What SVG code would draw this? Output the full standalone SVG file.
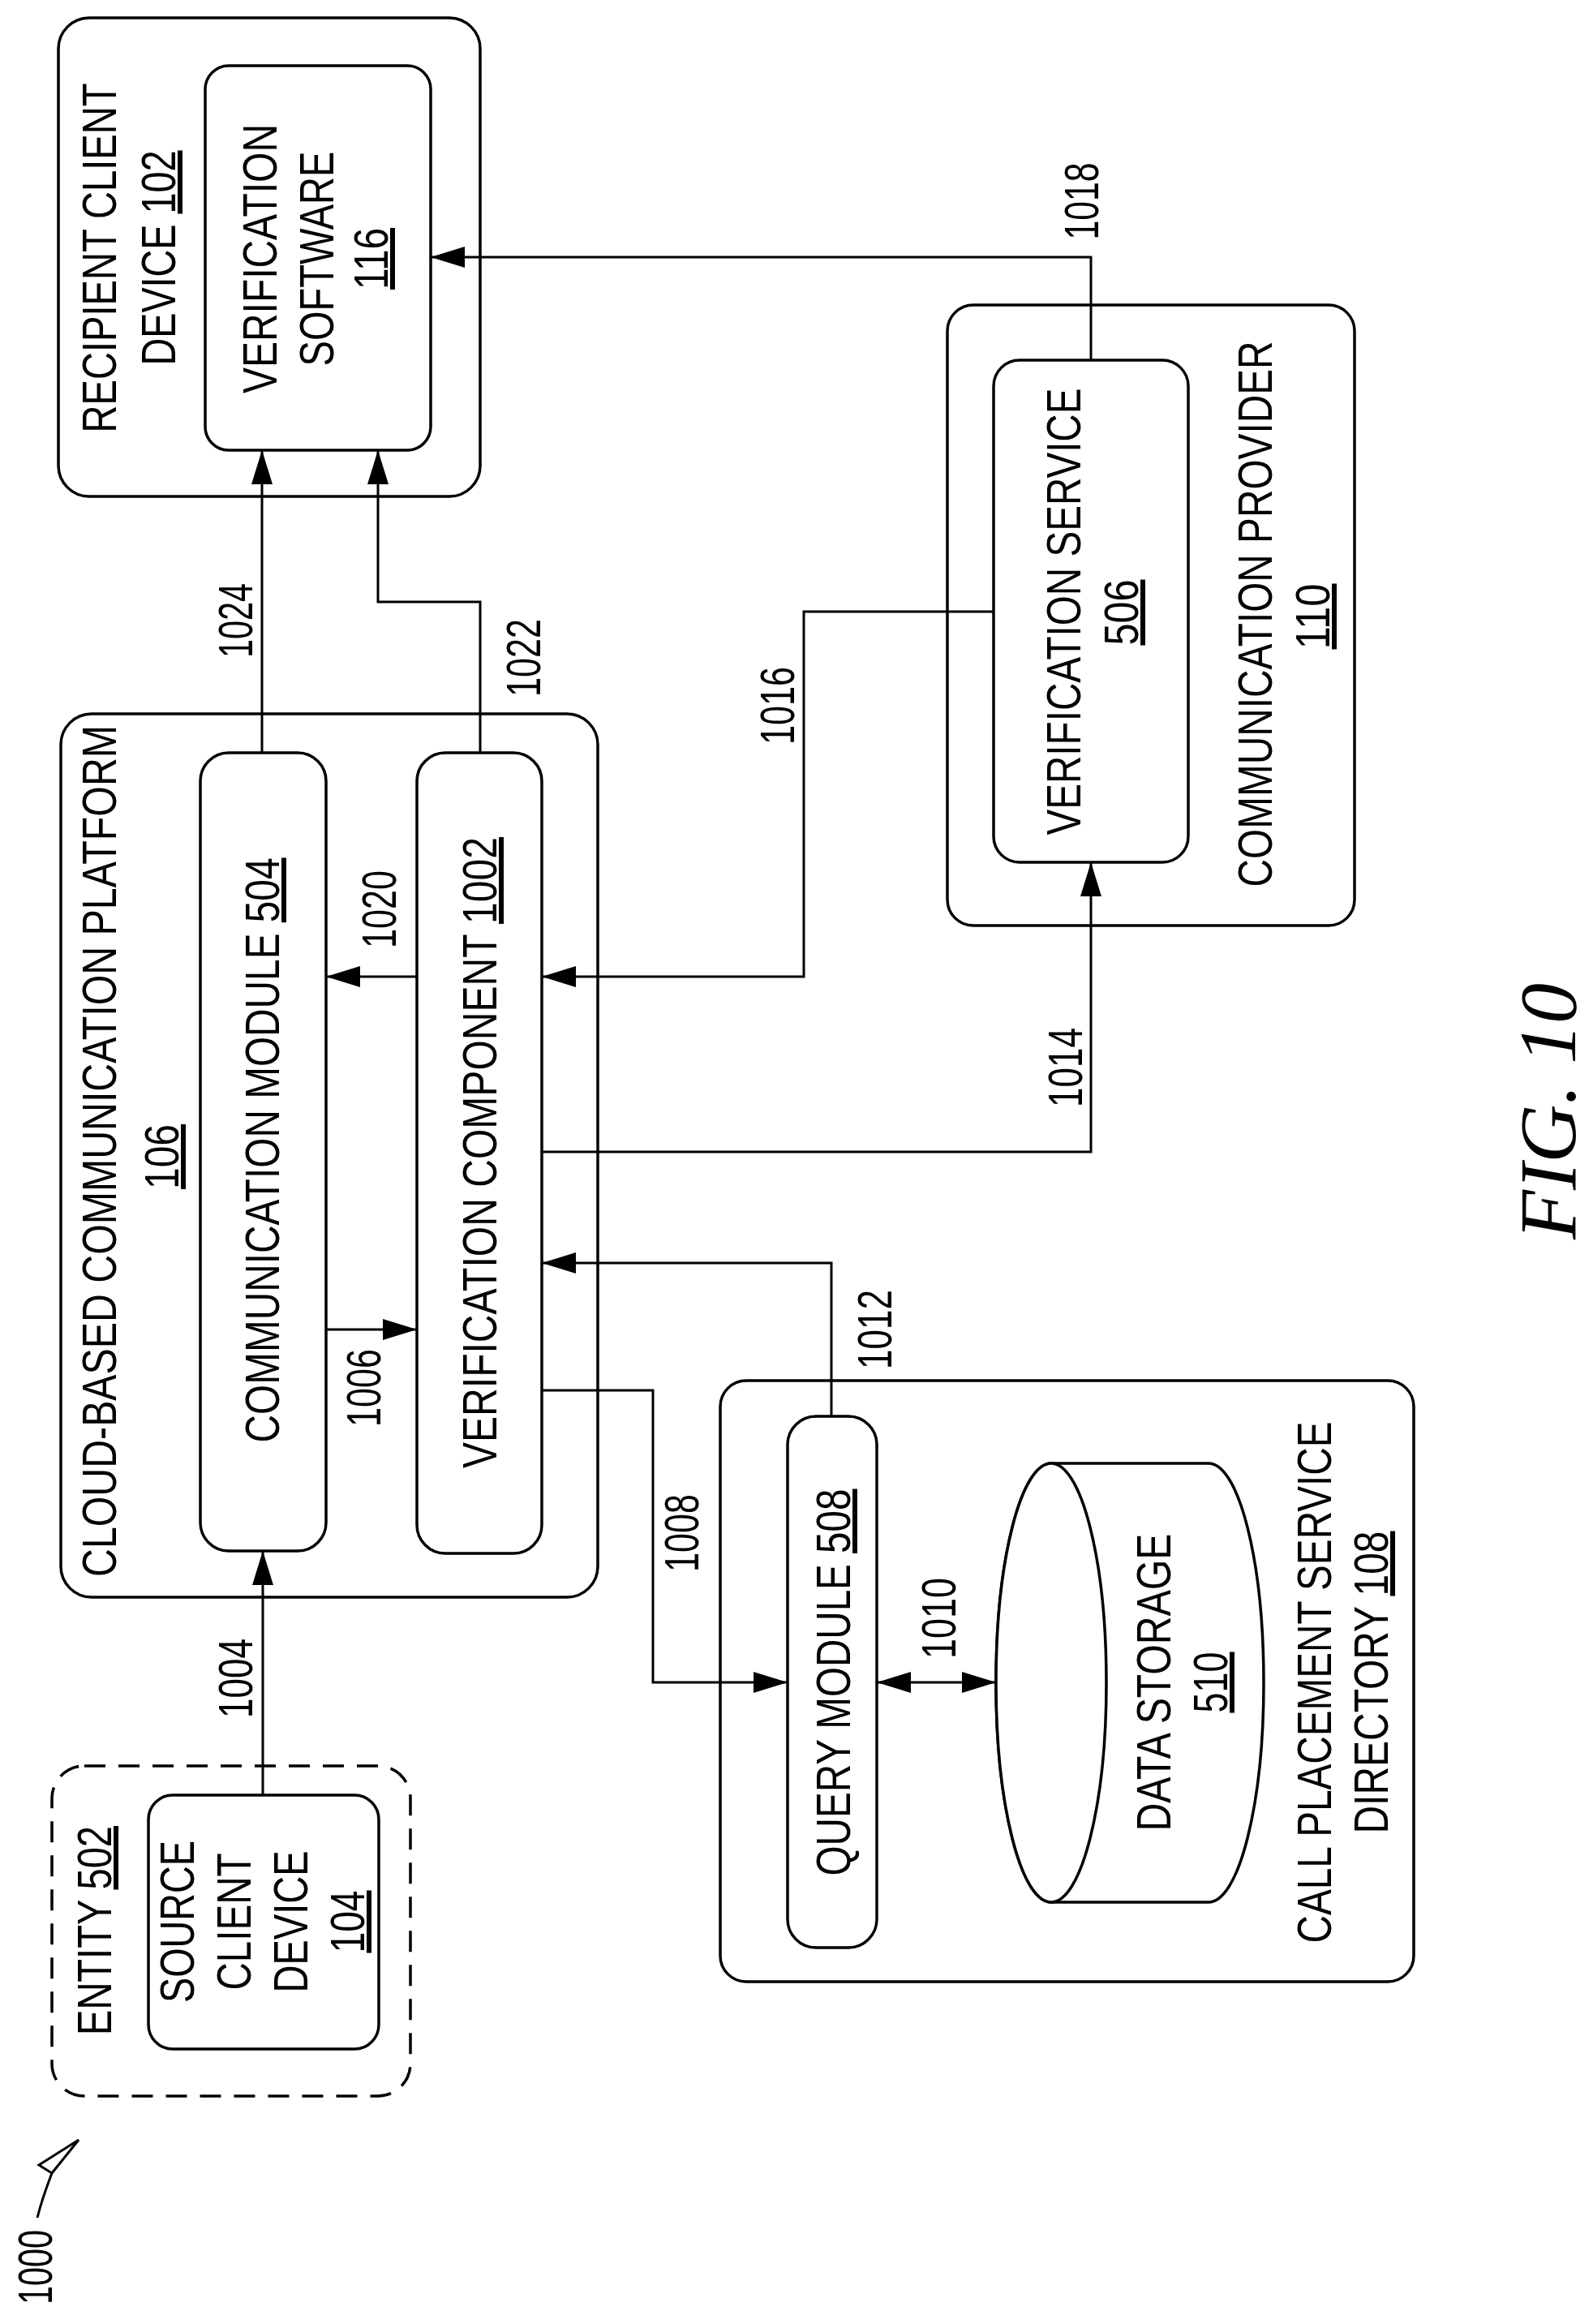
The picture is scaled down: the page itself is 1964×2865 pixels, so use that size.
<svg xmlns="http://www.w3.org/2000/svg" width="1964" height="2865" viewBox="0 0 1964 2865">
<style>
.b{fill:#fff;stroke:#000;stroke-width:3.5}
.d{fill:none;stroke:#000;stroke-width:3.5;stroke-dasharray:26 16}
.c{fill:none;stroke:#000;stroke-width:3}
text{font-family:"Liberation Sans",Arial,sans-serif;font-size:60px;fill:#000;text-anchor:middle}
.u{text-decoration:underline}
.fig{font-family:"Liberation Serif","Times New Roman",serif;font-style:italic;font-size:100px}
</style>
<defs>
<marker id="a" markerUnits="userSpaceOnUse" viewBox="0 -14 44 28" refX="42" refY="0" markerWidth="44" markerHeight="28" orient="auto-start-reverse">
<path d="M0,-13 L42,0 L0,13 z" fill="#000"/>
</marker>
</defs>
<g id="recipient">
<rect class="b" x="72" y="22" width="520" height="590" rx="38"/>
<text transform="translate(143,318) rotate(-90)" textLength="431" lengthAdjust="spacingAndGlyphs">RECIPIENT CLIENT</text>
<text transform="translate(216,318) rotate(-90)" textLength="265" lengthAdjust="spacingAndGlyphs">DEVICE <tspan class="u">102</tspan></text>
</g>
<g id="verif-software">
<rect class="b" x="253" y="81" width="278" height="474" rx="29"/>
<text transform="translate(341,319) rotate(-90)" textLength="332" lengthAdjust="spacingAndGlyphs">VERIFICATION</text>
<text transform="translate(411,319) rotate(-90)" textLength="265" lengthAdjust="spacingAndGlyphs">SOFTWARE</text>
<text class="u" transform="translate(478,319) rotate(-90)" textLength="76" lengthAdjust="spacingAndGlyphs">116</text>
</g>
<g id="cbcp">
<rect class="b" x="75" y="880" width="662" height="1089" rx="38"/>
<text transform="translate(143,1419) rotate(-90)" textLength="1050" lengthAdjust="spacingAndGlyphs">CLOUD-BASED COMMUNICATION PLATFORM</text>
<text class="u" transform="translate(220,1426) rotate(-90)" textLength="80" lengthAdjust="spacingAndGlyphs">106</text>
</g>
<g id="comm-module">
<rect class="b" x="247" y="928" width="155" height="984" rx="35"/>
<text transform="translate(344,1418) rotate(-90)" textLength="721" lengthAdjust="spacingAndGlyphs">COMMUNICATION MODULE <tspan class="u">504</tspan></text>
</g>
<g id="verif-component">
<rect class="b" x="514" y="928" width="154" height="987" rx="35"/>
<text transform="translate(612,1421) rotate(-90)" textLength="778" lengthAdjust="spacingAndGlyphs">VERIFICATION COMPONENT <tspan class="u">1002</tspan></text>
</g>
<g id="comm-provider">
<rect class="b" x="1168" y="376" width="502" height="765" rx="32"/>
<text transform="translate(1568,757) rotate(-90)" textLength="673" lengthAdjust="spacingAndGlyphs">COMMUNICATION PROVIDER</text>
<text class="u" transform="translate(1639,760) rotate(-90)" textLength="81" lengthAdjust="spacingAndGlyphs">110</text>
</g>
<g id="verif-service">
<rect class="b" x="1225" y="444" width="240" height="619" rx="32"/>
<text transform="translate(1332,754) rotate(-90)" textLength="551" lengthAdjust="spacingAndGlyphs">VERIFICATION SERVICE</text>
<text class="u" transform="translate(1403,755) rotate(-90)" textLength="81" lengthAdjust="spacingAndGlyphs">506</text>
</g>
<g id="cpsd">
<rect class="b" x="888" y="1702" width="855" height="741" rx="32"/>
<text transform="translate(1641,2074) rotate(-90)" textLength="643" lengthAdjust="spacingAndGlyphs">CALL PLACEMENT SERVICE</text>
<text transform="translate(1711,2074) rotate(-90)" textLength="373" lengthAdjust="spacingAndGlyphs">DIRECTORY <tspan class="u">108</tspan></text>
</g>
<g id="query-module">
<rect class="b" x="971" y="1746" width="110" height="655" rx="35"/>
<text transform="translate(1048,2074) rotate(-90)" textLength="477" lengthAdjust="spacingAndGlyphs">QUERY MODULE <tspan class="u">508</tspan></text>
</g>
<g id="data-storage">
<path class="b" d="M1296,1804 L1490,1804 A68,270.5 0 0 1 1490,2345 L1296,2345 A68,270.5 0 0 1 1296,1804 Z"/>
<ellipse class="b" cx="1296" cy="2074.5" rx="68" ry="270.5"/>
<text transform="translate(1443,2074) rotate(-90)" textLength="367" lengthAdjust="spacingAndGlyphs">DATA STORAGE</text>
<text class="u" transform="translate(1513,2074) rotate(-90)" textLength="75" lengthAdjust="spacingAndGlyphs">510</text>
</g>
<g id="entity">
<rect class="d" x="64" y="2177" width="442" height="407" rx="40"/>
<text transform="translate(137,2380) rotate(-90)" textLength="258" lengthAdjust="spacingAndGlyphs">ENTITY <tspan class="u">502</tspan></text>
</g>
<g id="source">
<rect class="b" x="183" y="2213" width="284" height="313" rx="30"/>
<text transform="translate(239,2369) rotate(-90)" textLength="200" lengthAdjust="spacingAndGlyphs">SOURCE</text>
<text transform="translate(309,2369) rotate(-90)" textLength="169" lengthAdjust="spacingAndGlyphs">CLIENT</text>
<text transform="translate(379,2369) rotate(-90)" textLength="175" lengthAdjust="spacingAndGlyphs">DEVICE</text>
<text class="u" transform="translate(449,2369) rotate(-90)" textLength="77" lengthAdjust="spacingAndGlyphs">104</text>
</g>
<g id="connectors">
<path class="c" marker-end="url(#a)" d="M324,2213 L324,1912"/>
<path class="c" marker-end="url(#a)" d="M323,928 L323,555"/>
<path class="c" marker-end="url(#a)" d="M592,928 L592,742 L466,742 L466,555"/>
<path class="c" marker-end="url(#a)" d="M1345,444 L1345,317 L531,317"/>
<path class="c" marker-end="url(#a)" d="M514,1204 L402,1204"/>
<path class="c" marker-end="url(#a)" d="M1225,754 L991,754 L991,1204 L668,1204"/>
<path class="c" marker-end="url(#a)" d="M668,1420 L1345,1420 L1345,1063"/>
<path class="c" marker-end="url(#a)" d="M1025,1746 L1025,1557 L668,1557"/>
<path class="c" marker-end="url(#a)" d="M402,1639 L514,1639"/>
<path class="c" marker-end="url(#a)" d="M668,1714 L805,1714 L805,2074 L971,2074"/>
<path class="c" marker-start="url(#a)" marker-end="url(#a)" d="M1081,2074 L1228,2074"/>
<path class="c" d="M46,2734 C52,2710 58,2695 64,2679 L48,2669 L97,2638 L64,2679"/>
<text transform="translate(311,765) rotate(-90)" textLength="92" lengthAdjust="spacingAndGlyphs">1024</text>
<text transform="translate(666,811) rotate(-90)" textLength="96" lengthAdjust="spacingAndGlyphs">1022</text>
<text transform="translate(979,870) rotate(-90)" textLength="96" lengthAdjust="spacingAndGlyphs">1016</text>
<text transform="translate(1354,248) rotate(-90)" textLength="95" lengthAdjust="spacingAndGlyphs">1018</text>
<text transform="translate(488,1121) rotate(-90)" textLength="96" lengthAdjust="spacingAndGlyphs">1020</text>
<text transform="translate(1334,1316) rotate(-90)" textLength="98" lengthAdjust="spacingAndGlyphs">1014</text>
<text transform="translate(1099,1639) rotate(-90)" textLength="98" lengthAdjust="spacingAndGlyphs">1012</text>
<text transform="translate(469,1711) rotate(-90)" textLength="96" lengthAdjust="spacingAndGlyphs">1006</text>
<text transform="translate(861,1890) rotate(-90)" textLength="96" lengthAdjust="spacingAndGlyphs">1008</text>
<text transform="translate(1178,1995) rotate(-90)" textLength="100" lengthAdjust="spacingAndGlyphs">1010</text>
<text transform="translate(311,2069) rotate(-90)" textLength="98" lengthAdjust="spacingAndGlyphs">1004</text>
<text transform="translate(64,2795) rotate(-90)" textLength="92" lengthAdjust="spacingAndGlyphs">1000</text>
</g>
<text class="fig" transform="translate(1942,1370) rotate(-90)" textLength="316" lengthAdjust="spacingAndGlyphs">FIG. 10</text>
</svg>
